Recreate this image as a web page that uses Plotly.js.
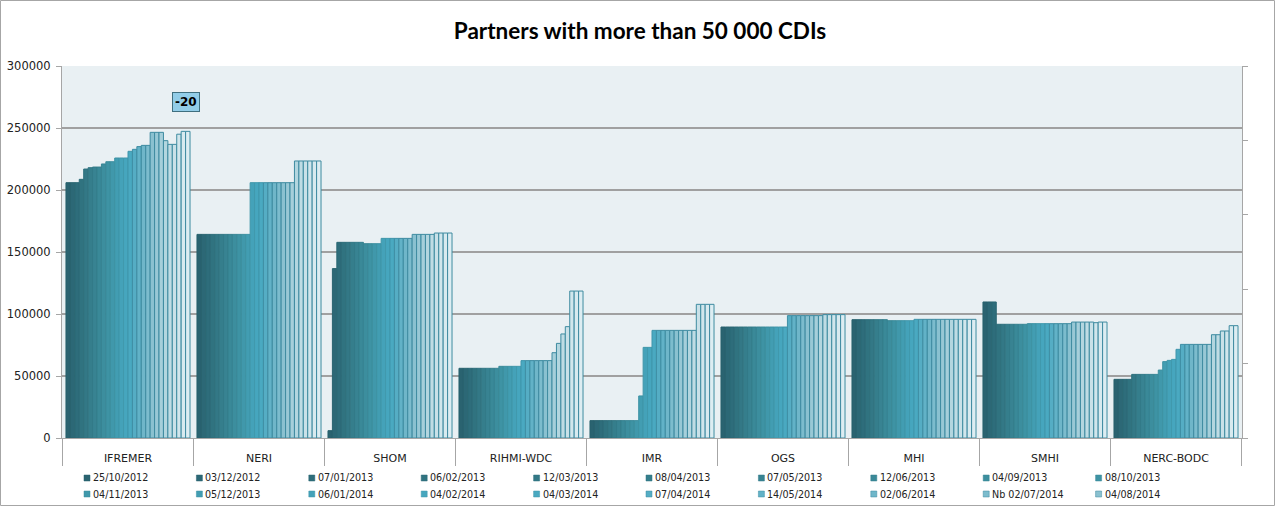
<!DOCTYPE html>
<html>
<head>
<meta charset="utf-8">
<script src="https://cdn.plot.ly/plotly-3.0.1.min.js"></script>
<style>
  html, body { margin: 0; padding: 0; background: #ffffff; }
  #chart { width: 1275px; height: 506px; }
</style>
</head>
<body>
<div id="chart"></div>
<script>
// ---------------- DATA ----------------
const categories = ['IFREMER', 'NERI', 'SHOM', 'RIHMI-WDC', 'IMR', 'OGS', 'MHI', 'SMHI', 'NERC-BODC'];

// Legend labels shown in the reference (the first 20 series)
const legendDates = ['25/10/2012', '03/12/2012', '07/01/2013', '06/02/2013', '12/03/2013',
                     '08/04/2013', '07/05/2013', '12/06/2013', '04/09/2013', '08/10/2013',
                     '04/11/2013', '05/12/2013', '06/01/2014', '04/02/2014', '04/03/2014',
                     '07/04/2014', '14/05/2014', '02/06/2014', 'Nb 02/07/2014', '04/08/2014'];
// Further series drawn in the chart but cut from the legend
const hiddenSeries = ['Series 21', 'Series 22', 'Series 23', 'Series 24',
                      'Series 25', 'Series 26', 'Series 27', 'Series 28'];

// Values per partner, one per series (28 series)
const ifremer = [205900, 205900, 205900, 208600, 216900, 218000, 218500, 218500, 221000, 222800,
                 222800, 225800, 225800, 225800, 231200, 232800, 235000, 236000, 236000, 246500,
                 246500, 246500, 239800, 236800, 236800, 245000, 247300, 247300];
const neri    = [164200, 164200, 164200, 164200, 164200, 164200, 164200, 164200, 164200, 164200,
                 164200, 164200, 205900, 205900, 205900, 205900, 205900, 205900, 205900, 205900,
                 205900, 205900, 223400, 223400, 223400, 223400, 223400, 223400];
const shom    = [5900, 136600, 157800, 157800, 157800, 157800, 157800, 157800, 156700, 156700,
                 156700, 156700, 161000, 161000, 161000, 161000, 161000, 161000, 161000, 164200,
                 164200, 164200, 164200, 164200, 165300, 165300, 165300, 165300];
const rihmi   = [56200, 56200, 56200, 56200, 56200, 56200, 56200, 56200, 56200, 57800,
                 57800, 57800, 57800, 57800, 62400, 62400, 62400, 62400, 62400, 62400,
                 62400, 68800, 76300, 83900, 89800, 118500, 118500, 118500];
const imr     = [14000, 14000, 14000, 14000, 14000, 14000, 14000, 14000, 14000, 14000,
                 14000, 33900, 73100, 73100, 86800, 86800, 86800, 86800, 86800, 86800,
                 86800, 86800, 86800, 86800, 107800, 107800, 107800, 107800];
const ogs     = [89500, 89500, 89500, 89500, 89500, 89500, 89500, 89500, 89500, 89500,
                 89500, 89500, 89500, 89500, 89500, 98700, 98700, 98700, 98700, 98700,
                 98700, 98700, 98700, 99500, 99500, 99500, 99500, 99500];
const mhi     = [95400, 95400, 95400, 95400, 95400, 95400, 95400, 95400, 94600, 94600,
                 94600, 94600, 94600, 94600, 95700, 95700, 95700, 95700, 95700, 95700,
                 95700, 95700, 95700, 95700, 95700, 95700, 95700, 95700];
const smhi    = [109700, 109700, 109700, 91700, 91700, 91700, 91700, 91700, 91700, 91700,
                 92200, 92200, 92200, 92200, 92200, 92200, 92200, 92200, 92200, 92200,
                 93500, 93500, 93500, 93500, 93500, 93000, 93500, 93500];
const nerc    = [47300, 47300, 47300, 47300, 51300, 51300, 51300, 51300, 51300, 51300,
                 54800, 61600, 62600, 63400, 71500, 75500, 75500, 75500, 75500, 75500,
                 75500, 75500, 83300, 83300, 86300, 86300, 90600, 90600];

const annotationLabel = '-20';

// ---------------- STYLE ----------------
const fills = ['#2a6370', '#2c6876', '#2e6d7b', '#307380', '#337886', '#357e8c', '#388392',
               '#3a8998', '#3c8e9e', '#3e93a4', '#4098ab', '#429db2', '#44a2b9', '#46a6be',
               '#4aa9c1', '#55adc4', '#62b2c7', '#6fb6c9', '#7cbccd', '#8ac1d0', '#98c8d5',
               '#a6cfda', '#b3d6df', '#bfdce4', '#c9e1e8', '#d1e6ec', '#d8eaef', '#ddedf2'];
const lines = ['#27606c', '#29636f', '#2a6773', '#2c6b78', '#2f707d', '#317582', '#337a88',
               '#357f8d', '#378493', '#398998', '#3b8e9e', '#3d92a4', '#3f96a9', '#4099ad',
               '#3f95ab', '#3f8fa5', '#3e8ca2', '#3e8ba0', '#3e8ba0', '#3e8ba0', '#3e8ba0',
               '#3e8ba0', '#3e8ba0', '#3e8ba0', '#3e8ba0', '#3e8ba0', '#3e8ba0', '#3e8ba0'];

const table = [ifremer, neri, shom, rihmi, imr, ogs, mhi, smhi, nerc];
const seriesNames = legendDates.concat(hiddenSeries);

const traces = seriesNames.map((name, s) => ({
  type: 'bar',
  name: name,
  x: categories,
  y: table.map(row => row[s]),
  marker: { color: fills[s], line: { color: lines[s], width: 1 } },
  showlegend: false,
  hovertemplate: '%{x}<br>' + name + ': %{y}<extra></extra>'
}));

// dummy trace to show the secondary (right) axis
traces.push({ type: 'scatter', mode: 'markers', x: [categories[0]], y: [null],
              yaxis: 'y2', showlegend: false, hoverinfo: 'skip' });

// pixel -> paper helpers (plot area: x 62..1242, y 66..438)
const L = 62, R = 1242, T = 66, B = 438;
const px = p => (p - L) / (R - L);
const py = p => (B - p) / (B - T);

const shapes = [];
const annotations = [];

// category separators below the axis
for (let i = 0; i <= categories.length; i++) {
  shapes.push({ type: 'line', xref: 'x', yref: 'paper', x0: i - 0.5, x1: i - 0.5,
                y0: 0, y1: py(466), line: { color: '#a6a6a6', width: 1 } });
}

// custom legend (20 entries, 2 rows of 10)
legendDates.forEach((label, i) => {
  const row = Math.floor(i / 10), col = i % 10;
  const x0 = 84 + 112.4 * col;
  const yc = 478 + 16 * row;
  shapes.push({ type: 'rect', xref: 'paper', yref: 'paper',
                x0: px(x0), x1: px(x0 + 6), y0: py(yc + 3), y1: py(yc - 3),
                fillcolor: fills[i], line: { color: lines[i], width: 0.5 } });
  annotations.push({ xref: 'paper', yref: 'paper', x: px(x0 + 7), y: py(yc),
                     xanchor: 'left', yanchor: 'middle', showarrow: false, text: label,
                     font: { family: 'DejaVu Sans', size: 9.6, color: '#222' } });
});

// outer frame
shapes.push({ type: 'rect', xref: 'paper', yref: 'paper',
              x0: px(0.5), x1: px(1274.5), y0: py(505.5), y1: py(0.5),
              line: { color: '#a6a6a6', width: 1 }, fillcolor: 'rgba(0,0,0,0)' });

// data label box
annotations.push({ xref: 'x', yref: 'y', x: 0.44, y: 271000, showarrow: false,
                   text: '<b>' + annotationLabel + '</b>',
                   font: { family: 'DejaVu Sans', size: 12, color: '#000' },
                   bgcolor: '#92cde8', bordercolor: '#3f6f7f', borderwidth: 1, borderpad: 2 });

const layout = {
  width: 1275, height: 506, autosize: false,
  margin: { l: L, r: 1275 - R, t: T, b: 506 - B, pad: 0 },
  paper_bgcolor: '#ffffff',
  plot_bgcolor: '#e9f0f3',
  title: { text: '<b>Partners with more than 50 000 CDIs</b>',
           font: { family: 'Lato', size: 22.5, color: '#000' },
           xref: 'container', x: 0.502, yref: 'container', y: 1 - 31 / 506,
           xanchor: 'center', yanchor: 'middle' },
  barmode: 'group', bargap: 0.053, bargroupgap: 0,
  xaxis: { type: 'category', showline: true, linecolor: '#a6a6a6', linewidth: 1,
           ticks: '', ticklabelstandoff: 10,
           tickfont: { family: 'DejaVu Sans', size: 11, color: '#222' },
           showgrid: false, zeroline: false, fixedrange: true },
  yaxis: { range: [0, 300000], dtick: 50000, tickformat: 'd',
           showline: true, linecolor: '#a6a6a6', linewidth: 1,
           ticks: 'outside', ticklen: 5, tickcolor: '#a6a6a6', ticklabelstandoff: 3,
           tickfont: { family: 'DejaVu Sans', size: 11.5, color: '#222' },
           showgrid: true, gridcolor: '#a0a0a0', gridwidth: 1.2, zeroline: false },
  yaxis2: { overlaying: 'y', side: 'right', range: [0, 5], tickvals: [0, 1, 2, 3, 4, 5],
            showticklabels: false, ticks: 'outside', ticklen: 5, tickcolor: '#a6a6a6',
            showline: true, linecolor: '#a6a6a6', linewidth: 1,
            showgrid: false, zeroline: false },
  shapes: shapes,
  annotations: annotations,
  showlegend: false
};

Plotly.newPlot('chart', traces, layout, { displayModeBar: false, staticPlot: true });
</script>
</body>
</html>
